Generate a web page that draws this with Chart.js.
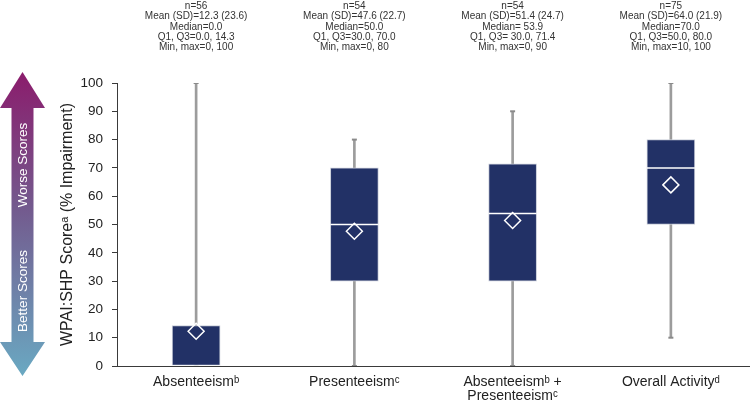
<!DOCTYPE html>
<html>
<head>
<meta charset="utf-8">
<script src="https://cdn.jsdelivr.net/npm/chart.js@4"></script>
<style>
  html, body { margin: 0; padding: 0; background: #fff; overflow: hidden; }
  #wrap { width: 750px; height: 414px; position: relative; }
</style>
</head>
<body>
<div id="wrap"><canvas id="wpai"></canvas></div>
<script>
  // Categories and summary statistics
  var categories = ['Absenteeism\u1D47', 'Presenteeism\u1D9C', ['Absenteeism\u1D47 +', 'Presenteeism\u1D9C'], 'Overall Activity\u1D48'];
  var nValues = [56, 54, 54, 75];
  var meanValues = [12.3, 47.6, 51.4, 64.0];
  var sdValues = [23.6, 22.7, 24.7, 21.9];
  var medianValues = [0.0, 50.0, 53.9, 70.0];
  var q1Values = [0.0, 30.0, 30.0, 50.0];
  var q3Values = [14.3, 70.0, 71.4, 80.0];
  var minValues = [0, 0, 0, 10];
  var maxValues = [100, 80, 90, 100];
  var yTicks = [0, 10, 20, 30, 40, 50, 60, 70, 80, 90, 100];
  // the third column is printed with a space after '='
  var eqSigns = ['=', '=', '= ', '='];

  var font = "'Liberation Sans', Arial, sans-serif";

  var boxData = q1Values.map(function (q, i) { return [q, q3Values[i]]; });
  var whiskerData = minValues.map(function (m, i) { return [m, maxValues[i]]; });

  // Stats text above each box
  var statsPlugin = {
    id: 'stats',
    afterDraw: function (chart) {
      var ctx = chart.ctx;
      var x = chart.scales.x;
      ctx.save();
      ctx.font = '10px ' + font;
      ctx.fillStyle = '#333';
      ctx.textAlign = 'center';
      ctx.textBaseline = 'alphabetic';
      for (var i = 0; i < categories.length; i++) {
        var cx = x.getPixelForValue(i);
        var e = eqSigns[i];
        var lines = [
          'n=' + nValues[i],
          'Mean (SD)=' + meanValues[i].toFixed(1) + ' (' + sdValues[i].toFixed(1) + ')',
          'Median' + e + medianValues[i].toFixed(1),
          'Q1, Q3' + e + q1Values[i].toFixed(1) + ', ' + q3Values[i].toFixed(1),
          'Min, max=' + minValues[i] + ', ' + maxValues[i]
        ];
        lines.forEach(function (t, k) {
          ctx.fillText(t, cx, 9 + k * 10.3);
        });
      }
      ctx.restore();
    }
  };

  // Better / worse arrow on the far left
  var arrowPlugin = {
    id: 'arrow',
    beforeDraw: function (chart) {
      var ctx = chart.ctx;
      var cx = 22.5, top = 72, bottom = 376;
      ctx.save();
      var g = ctx.createLinearGradient(0, top, 0, bottom);
      g.addColorStop(0, '#8b1c6c');
      g.addColorStop(0.45, '#735a8e');
      g.addColorStop(1, '#6aa9c2');
      ctx.fillStyle = g;
      ctx.beginPath();
      ctx.moveTo(cx, top);
      ctx.lineTo(cx + 22.5, 108);
      ctx.lineTo(cx + 11, 108);
      ctx.lineTo(cx + 11, 342);
      ctx.lineTo(cx + 22.5, 342);
      ctx.lineTo(cx, bottom);
      ctx.lineTo(cx - 22.5, 342);
      ctx.lineTo(cx - 11, 342);
      ctx.lineTo(cx - 11, 108);
      ctx.lineTo(cx - 22.5, 108);
      ctx.closePath();
      ctx.fill();

      ctx.fillStyle = '#fff';
      ctx.font = '13.5px ' + font;
      ctx.textAlign = 'center';
      ctx.textBaseline = 'middle';
      [['Worse Scores', 165], ['Better Scores', 291]].forEach(function (t) {
        ctx.save();
        ctx.translate(cx + 0.5, t[1]);
        ctx.rotate(-Math.PI / 2);
        ctx.fillText(t[0], 0, 0);
        ctx.restore();
      });
      ctx.restore();
    }
  };

  new Chart('wpai', {
    type: 'bar',
    data: {
      labels: categories,
      datasets: [
        {
          label: 'Mean',
          type: 'line',
          data: meanValues,
          showLine: false,
          pointStyle: 'rectRot',
          pointRadius: 8,
          pointBackgroundColor: 'rgba(0,0,0,0)',
          pointBorderColor: '#ffffff',
          pointBorderWidth: 1.5,
          order: 1
        },
        {
          label: 'Median',
          type: 'line',
          data: medianValues,
          showLine: false,
          pointStyle: 'line',
          pointRadius: 24,
          pointBorderColor: '#ffffff',
          pointBorderWidth: 1.5,
          clip: 0,
          order: 2
        },
        {
          label: 'IQR',
          data: boxData,
          backgroundColor: '#223166',
          borderColor: '#c9cdd9',
          borderWidth: 1,
          borderSkipped: false,
          barThickness: 48,
          grouped: false,
          order: 3
        },
        {
          label: 'Max cap',
          type: 'line',
          data: maxValues,
          showLine: false,
          pointStyle: 'line',
          pointRadius: 2.5,
          pointBorderColor: '#8a8a8a',
          pointBorderWidth: 2,
          order: 4
        },
        {
          label: 'Min cap',
          type: 'line',
          data: minValues,
          showLine: false,
          pointStyle: 'line',
          pointRadius: 2.5,
          pointBorderColor: '#8a8a8a',
          pointBorderWidth: 2,
          clip: 0,
          order: 4
        },
        {
          label: 'Range',
          data: whiskerData,
          backgroundColor: '#9c9c9c',
          barThickness: 2,
          grouped: false,
          order: 5
        }
      ]
    },
    options: {
      responsive: true,
      maintainAspectRatio: false,
      animation: false,
      layout: {
        autoPadding: false,
        padding: { top: 83, left: 0, right: 0, bottom: 0 }
      },
      plugins: {
        legend: { display: false },
        tooltip: { enabled: false }
      },
      scales: {
        x: {
          z: 1,
          offset: true,
          grid: { display: false, drawTicks: false },
          border: { color: '#3a3a3a', width: 1 },
          ticks: {
            padding: 9,
            color: '#222',
            maxRotation: 0,
            font: { family: font, size: 14, lineHeight: 1.0 }
          },
          afterFit: function (s) {
            s.height = 48;
            s.paddingLeft = 0;
            s.paddingRight = 0;
          }
        },
        y: {
          min: 0,
          max: 100,
          afterBuildTicks: function (s) {
            s.ticks = yTicks.map(function (v) { return { value: v }; });
          },
          grid: { drawOnChartArea: false, drawTicks: true, tickLength: 5, color: '#3a3a3a' },
          border: { color: '#3a3a3a', width: 1 },
          ticks: {
            padding: 9,
            color: '#222',
            font: { family: font, size: 13.5 }
          },
          title: {
            display: true,
            text: 'WPAI:SHP Score\u1D43 (% Impairment)',
            color: '#222',
            font: { family: font, size: 16 },
            padding: { top: 58, bottom: 0 }
          },
          afterFit: function (s) { s.width = 117; }
        }
      }
    },
    plugins: [arrowPlugin, statsPlugin]
  });
</script>
</body>
</html>
